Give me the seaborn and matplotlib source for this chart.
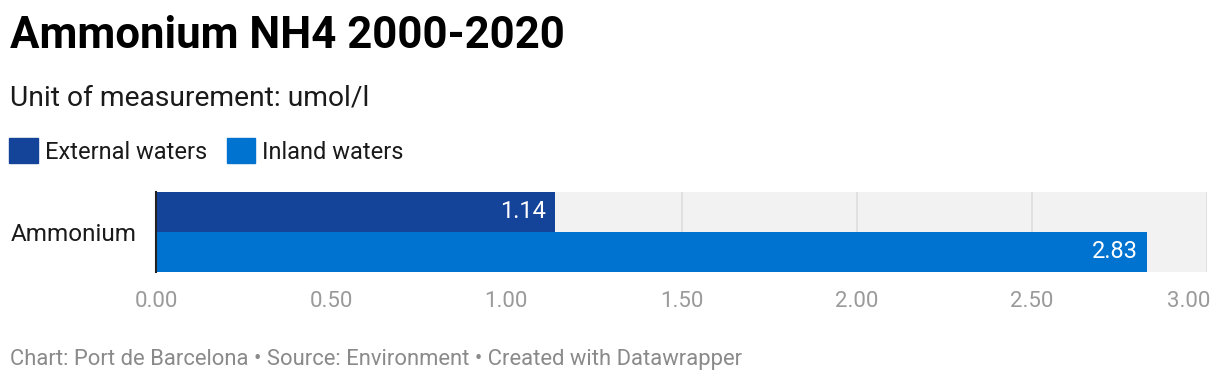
import pandas as pd
import matplotlib.pyplot as plt
import matplotlib.transforms as mtransforms
import seaborn as sns

# data
categories = ["Ammonium"]
series = ["External waters", "Inland waters"]
values = [1.14, 2.83]
colors = ["#14439a", "#0073d0"]
ticks = [0.0, 0.5, 1.0, 1.5, 2.0, 2.5, 3.0]

df = pd.DataFrame({
    "category": categories * len(series),
    "series": series,
    "value": values,
})

sns.set_theme(style="white")
plt.rcParams["font.family"] = ["Roboto", "DejaVu Sans"]

fig = plt.figure(figsize=(12.2, 3.86), dpi=100)
ax = fig.add_axes([156 / 1220, 1 - 272 / 386, 1051 / 1220, 80 / 386])

sns.barplot(
    data=df, y="category", x="value", hue="series", orient="h",
    palette=colors, width=0.8, dodge=True, ax=ax, legend=False,
    saturation=1, edgecolor="none", linewidth=0,
)

ax.set_facecolor("#f2f2f2")
ax.set_xlim(0, 3)
ax.set_ylim(0.4, -0.4)
ax.set_xticks(ticks)
ax.set_xticklabels([f"{t:.2f}" for t in ticks], color="#9a9a9a", fontsize=16)
ax.tick_params(axis="x", length=0, pad=14)
ax.tick_params(axis="y", length=0, pad=14, labelsize=17.5, labelcolor="#1a1a1a")
# last tick label right-aligned so it stays inside the figure
lbl = ax.get_xticklabels()[-1]
lbl.set_horizontalalignment("right")
lbl.set_transform(lbl.get_transform() + mtransforms.ScaledTranslation(3 / 100, 0, fig.dpi_scale_trans))
ax.set_xlabel("")
ax.set_ylabel("")
for t in ticks[1:]:
    ax.axvline(t, color="#dddddd", lw=1.2, zorder=0.5)
for s in ["top", "right", "bottom"]:
    ax.spines[s].set_visible(False)
ax.spines["left"].set_color("#222222")
ax.spines["left"].set_linewidth(1.5)
ax.spines["left"].set_zorder(5)

# value labels inside bars
for container in ax.containers:
    for bar in container:
        w = bar.get_width()
        ax.annotate(f"{w:.2f}", (w, bar.get_y() + bar.get_height() / 2),
                    xytext=(-7, 0), textcoords="offset points",
                    ha="right", va="center", color="white", fontsize=17)

# legend
handles = [plt.Rectangle((0, 0), 1, 1, color=c) for c in colors]
fig.legend(handles, series, loc="upper left", bbox_to_anchor=(0.0, 1 - 129 / 386),
           ncol=2, frameon=False, fontsize=17, handlelength=1.2, handleheight=1.2,
           handletextpad=0.3, columnspacing=0.85, borderaxespad=0, borderpad=0.4,
           labelcolor="#1a1a1a")

fig.text(10 / 1220, 1 - 36 / 386, "Ammonium NH4 2000-2020", fontsize=31.5,
         fontweight="bold", va="center", ha="left", color="#000000")
fig.text(10 / 1220, 1 - 98 / 386, "Unit of measurement: umol/l", fontsize=20.3,
         va="center", ha="left", color="#1a1a1a")
fig.text(10 / 1220, 1 - 359 / 386,
         "Chart: Port de Barcelona \u2022 Source: Environment \u2022 Created with Datawrapper",
         fontsize=15.8, va="center", ha="left", color="#8a8a8a")

fig.savefig("out.png", dpi=100, facecolor="white")
